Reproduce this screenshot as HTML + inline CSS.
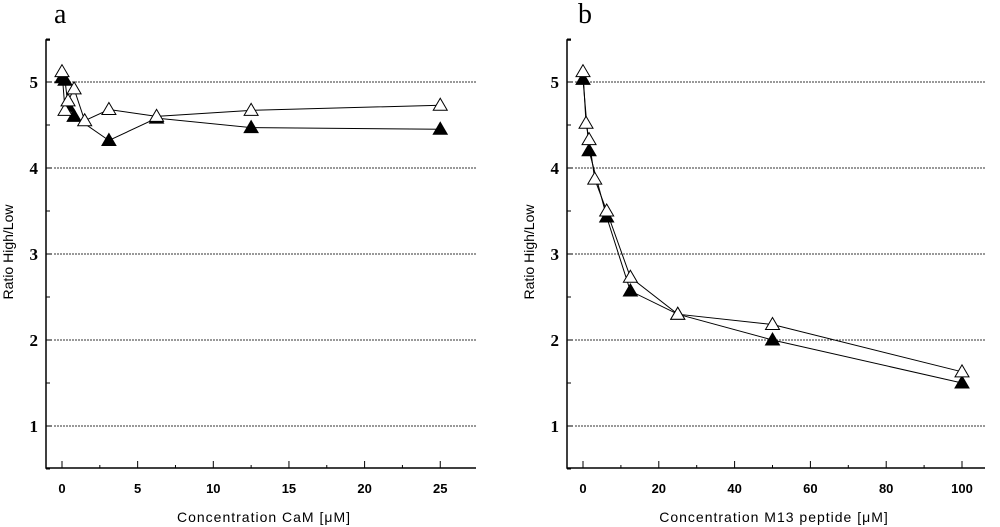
<!DOCTYPE html>
<html><head><meta charset="utf-8"><style>
body{margin:0;background:#fff}
svg{display:block}
text{font-family:"Liberation Sans",sans-serif}
text.serif{font-family:"Liberation Serif",serif}
</style></head><body>
<svg id="c" width="1000" height="527" xmlns="http://www.w3.org/2000/svg"></svg>
<script>
const aX=[0,0.2,0.4,0.8,1.5,3.1,6.25,12.5,25];
const aOpen=[5.12,4.67,4.78,4.92,4.55,4.68,4.6,4.67,4.73];
const aFilledX=[0,0.2,0.4,0.8,3.1,6.25,12.5,25];
const aFilled=[5.05,5.02,4.72,4.6,4.32,4.58,4.47,4.45];
const bX=[0,0.8,1.6,3.1,6.25,12.5,25,50,100];
const bOpen=[5.12,4.52,4.33,3.87,3.5,2.73,2.3,2.18,1.63];
const bFilledX=[0,1.6,6.25,12.5,25,50,100];
const bFilled=[5.03,4.2,3.43,2.57,2.3,2.0,1.5];
const yTicks=[1,2,3,4,5];
const aTicks=[0,5,10,15,20,25];
const bTicks=[0,20,40,60,80,100];
const NS="http://www.w3.org/2000/svg";
const svg=document.getElementById('c');
function el(t,a,p){const e=document.createElementNS(NS,t);for(const k in a)e.setAttribute(k,a[k]);(p||svg).appendChild(e);return e;}
function panel(o){
  const g=el('g',{});
  
  
  const sx=v=>o.x0+(v-0)*o.kx, sy=v=>82-(v-5)*86;
  const L=o.left,B=468,R=o.right,T=40;
  yTicks.forEach(v=>{const gl=el('line',{x1:L+8,x2:R,y1:sy(v),y2:sy(v),stroke:'#333','stroke-width':1,'stroke-dasharray':'2,1'},g);
    el('line',{x1:L,x2:L+6,y1:sy(v),y2:sy(v),stroke:'#000'},g);
    const t=el('text',{x:L-8,y:sy(v)+6,'text-anchor':'end','font-size':17,'font-weight':'bold','class':'serif'},g);t.textContent=v;
    el('line',{x1:L,x2:L+4,y1:sy(v+0.5),y2:sy(v+0.5),stroke:'#000'},g);});
  el('line',{x1:L,x2:L+4,y1:sy(0.5),y2:sy(0.5),stroke:'#000'},g);
  const ax=el('path',{d:`M${L+4},${T} H${L} V${B} H${R}`,fill:'none',stroke:'#000','stroke-width':1.5},g);
  o.ticks.forEach((v,i)=>{el('line',{x1:sx(v),x2:sx(v),y1:B,y2:B-7,stroke:'#000'},g);
    if(i<o.ticks.length-1){const m=(v+o.ticks[i+1])/2;el('line',{x1:sx(m),x2:sx(m),y1:B,y2:B-3,stroke:'#000'},g);}
    const t=el('text',{x:sx(v),y:B+25,'text-anchor':'middle','font-size':13,'font-weight':'bold'},g);t.textContent=v;});
  const xt=el('text',{x:o.xtx,y:522,'text-anchor':'middle','font-size':14,'letter-spacing':'1'},g);xt.textContent=o.xtitle;
  const yt=el('text',{x:0,y:0,transform:`translate(${L-33},252) rotate(-90)`,'text-anchor':'middle','font-size':14},g);yt.textContent='Ratio High/Low';
  const lb=el('text',{x:o.lx,y:23,'font-size':28,'class':'serif'},g);lb.textContent=o.label;
  function series(xs,ys,fill,nm){
    const pl=el('polyline',{points:xs.map((x,i)=>sx(x)+','+sy(ys[i])).join(' '),fill:'none',stroke:'#000','stroke-width':1},g);
    
    xs.forEach((x,i)=>{const cx=sx(x),cy=sy(ys[i]);
      const p=el('polygon',{points:`${cx},${cy-7} ${cx-7},${cy+5} ${cx+7},${cy+5}`,fill:fill,stroke:'#000','stroke-width':1},g);
      });
  }
  series(o.fx,o.fy,'#000','filled-series');
  series(o.ox,o.oy,'#fff','open-series');
}
panel({name:'panel-a',left:46,right:476,x0:62,kx:15.13,ticks:aTicks,xtitle:'Concentration CaM [μM]',xtx:264,label:'a',lx:54,ox:aX,oy:aOpen,fx:aFilledX,fy:aFilled});
panel({name:'panel-b',left:567,right:985,x0:583,kx:3.79,ticks:bTicks,xtitle:'Concentration M13 peptide [μM]',xtx:774,label:'b',lx:578,ox:bX,oy:bOpen,fx:bFilledX,fy:bFilled});
</script>
</body></html>
